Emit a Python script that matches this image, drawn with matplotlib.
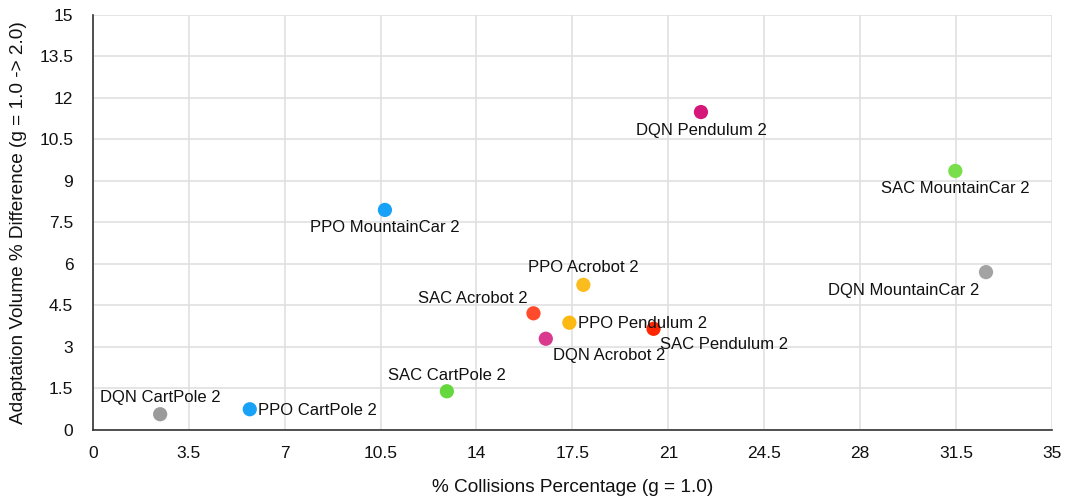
import matplotlib
matplotlib.use("Agg")
import matplotlib.pyplot as plt

labels = ["DQN CartPole 2", "PPO CartPole 2", "SAC CartPole 2", "PPO MountainCar 2",
          "DQN Pendulum 2", "SAC MountainCar 2", "DQN MountainCar 2", "PPO Acrobot 2",
          "SAC Acrobot 2", "PPO Pendulum 2", "SAC Pendulum 2", "DQN Acrobot 2"]
x_vals = [2.46, 5.73, 12.92, 10.66, 22.19, 31.47, 32.59, 17.90, 16.08, 17.39, 20.46, 16.53]
y_vals = [0.56, 0.74, 1.39, 7.95, 11.49, 9.36, 5.70, 5.24, 4.21, 3.87, 3.65, 3.29]
colors = ["#9b9b9b", "#17a2f7", "#64d83c", "#17a2f7", "#d6177a", "#78de4a", "#a3a3a3",
          "#fbbd1e", "#ff4b2b", "#fbb912", "#ff2600", "#d93a8e"]
# label placement: (dx px, dy px, ha, va)
placements = [(0, 17, "center", "center"), (8, -1, "left", "center"), (0, 16, "center", "center"),
              (0, -18, "center", "center"), (0, -18, "center", "center"), (0, -18, "center", "center"),
              (-7, -18, "right", "center"), (0, 17, "center", "center"), (-6, 15, "right", "center"),
              (9, -1, "left", "center"), (6, -16, "left", "center"), (7, -17, "left", "center")]

x_ticks = [0, 3.5, 7, 10.5, 14, 17.5, 21, 24.5, 28, 31.5, 35]
y_ticks = [0, 1.5, 3, 4.5, 6, 7.5, 9, 10.5, 12, 13.5, 15]

plt.rcParams['font.family'] = ['Liberation Sans', 'DejaVu Sans']

fig = plt.figure(figsize=(10.67, 4.97), dpi=100)
ax = fig.add_axes([0.0869, 0.1354, 0.8991, 0.8344])

ax.scatter(x_vals, y_vals, s=105, c=colors, zorder=3, linewidths=0)
for lab, xv, yv, (dx, dy, ha, va) in zip(labels, x_vals, y_vals, placements):
    ax.annotate(lab, (xv, yv), xytext=(dx, dy), textcoords="offset pixels",
                ha=ha, va=va, fontsize=12, color="#111111", zorder=4)

ax.set_xlim(0, 35)
ax.set_ylim(0, 15)
ax.set_xticks(x_ticks)
ax.set_xticklabels([f"{t:g}" for t in x_ticks])
ax.set_yticks(y_ticks)
ax.set_yticklabels([f"{t:g}" for t in y_ticks])
ax.tick_params(axis="both", length=0, labelsize=12.5, colors="#111111")
ax.tick_params(axis="x", pad=12)
ax.tick_params(axis="y", pad=14)
ax.grid(True, color="#e0e0e0", linewidth=1.2, zorder=0)
ax.set_axisbelow(True)
for s in ["top", "right"]:
    ax.spines[s].set_visible(False)
for s in ["left", "bottom"]:
    ax.spines[s].set_color("#333333")
    ax.spines[s].set_linewidth(1.2)

ax.set_xlabel("% Collisions Percentage (g = 1.0)", fontsize=13.7, color="#111111", labelpad=13)
ax.set_ylabel("Adaptation Volume % Difference (g = 1.0 -> 2.0)", fontsize=13.7, color="#111111", labelpad=9)

fig.savefig("out.png", dpi=100)
